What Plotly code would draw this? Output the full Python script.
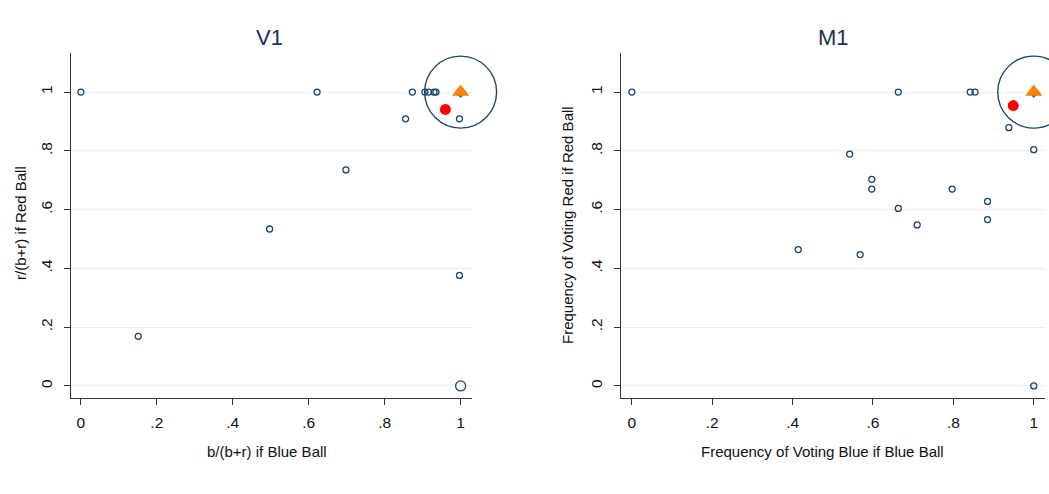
import plotly.graph_objects as go

# ---- data ----
v1_x = [0.0, 0.622, 0.873, 0.906, 0.916, 0.930, 0.935, 0.855, 0.997, 0.151, 0.497, 0.698, 0.997]
v1_y = [1.0, 1.0, 1.0, 1.0, 1.0, 1.0, 1.0, 0.909, 0.909, 0.169, 0.534, 0.735, 0.376]
v1_big_x = [1.0]
v1_big_y = [0.0]
v1_mean_x = [0.960]
v1_mean_y = [0.941]

m1_x = [0.0, 0.663, 0.842, 0.854, 0.938, 1.0, 0.542, 0.597, 0.597, 0.663, 0.710, 0.797, 0.885, 0.885, 0.414, 0.568, 1.0]
m1_y = [1.0, 1.0, 1.0, 1.0, 0.879, 0.804, 0.789, 0.703, 0.670, 0.604, 0.548, 0.670, 0.628, 0.566, 0.464, 0.447, 0.0]
m1_mean_x = [0.949]
m1_mean_y = [0.954]

eq_x = [1.0]
eq_y = [1.0]

tick_vals = [0, 0.2, 0.4, 0.6, 0.8, 1]
tick_text = ["0", ".2", ".4", ".6", ".8", "1"]

NAVY = "#1a476f"
FONT = "Liberation Sans, Arial, sans-serif"

fig = go.Figure()


def add_panel(xs, ys, mx, my, xa, ya, big=None):
    fig.add_trace(go.Scatter(x=xs, y=ys, mode="markers", xaxis=xa, yaxis=ya,
                             marker=dict(symbol="circle-open", size=6, color=NAVY,
                                         line=dict(width=1.3, color=NAVY)),
                             showlegend=False, cliponaxis=False))
    if big is not None:
        fig.add_trace(go.Scatter(x=big[0], y=big[1], mode="markers", xaxis=xa, yaxis=ya,
                                 marker=dict(symbol="circle-open", size=10, color=NAVY,
                                             line=dict(width=1.3, color=NAVY)),
                                 showlegend=False, cliponaxis=False))
    fig.add_trace(go.Scatter(x=mx, y=my, mode="markers", xaxis=xa, yaxis=ya,
                             marker=dict(symbol="circle", size=11, color="#ff0000"),
                             showlegend=False, cliponaxis=False))
    fig.add_trace(go.Scatter(x=eq_x, y=eq_y, mode="markers", xaxis=xa, yaxis=ya,
                             marker=dict(symbol="diamond", size=9, color="#2e8b2e"),
                             showlegend=False, cliponaxis=False))
    fig.add_trace(go.Scatter(x=eq_x, y=eq_y, mode="markers", xaxis=xa, yaxis=ya,
                             marker=dict(symbol="triangle-up", size=15, color="#f7820c"),
                             showlegend=False, cliponaxis=False))
    fig.add_trace(go.Scatter(x=eq_x, y=eq_y, mode="markers", xaxis=xa, yaxis=ya,
                             marker=dict(symbol="circle-open", size=72, color=NAVY,
                                         line=dict(width=1.4, color=NAVY)),
                             showlegend=False, cliponaxis=False))


add_panel(v1_x, v1_y, v1_mean_x, v1_mean_y, "x", "y", big=(v1_big_x, v1_big_y))
add_panel(m1_x, m1_y, m1_mean_x, m1_mean_y, "x2", "y2")

H = 494.0
W = 1049.0
ydom = [1 - 397.7 / H, 1 - 53 / H]

xaxis_common = dict(tickvals=tick_vals, ticktext=tick_text, showgrid=False, zeroline=False,
                    showline=True, linecolor="#333333", linewidth=1.2, ticks="outside",
                    ticklen=6, tickcolor="#333333", ticklabelstandoff=5,
                    tickfont=dict(size=15.5, color="#111111", family=FONT))
yaxis_common = dict(tickvals=tick_vals, ticktext=tick_text, showgrid=True, gridcolor="#e6eff1",
                    gridwidth=1, zeroline=False, showline=True, linecolor="#333333", linewidth=1.2,
                    ticks="outside", ticklen=6, tickcolor="#333333", tickangle=-90,
                    ticklabelstandoff=6,
                    tickfont=dict(size=15.5, color="#111111", family=FONT),
                    range=[-0.04, 1.133], domain=ydom)

fig.update_layout(
    width=1049, height=494,
    margin=dict(l=0, r=0, t=0, b=0),
    paper_bgcolor="white", plot_bgcolor="white",
    font=dict(family=FONT),
    xaxis=dict(xaxis_common, domain=[71 / W, 472 / W], range=[-0.026, 1.03], anchor="y"),
    yaxis=dict(yaxis_common, anchor="x"),
    xaxis2=dict(xaxis_common, domain=[621 / W, 1045 / W], range=[-0.027, 1.028], anchor="y2"),
    yaxis2=dict(yaxis_common, anchor="x2"),
)

annots = [
    dict(text="V1", x=269 / W, y=1 - 38 / H, size=22, color="#1e2d5a", angle=0),
    dict(text="M1", x=833 / W, y=1 - 38 / H, size=22, color="#1e2d5a", angle=0),
    dict(text="b/(b+r) if Blue Ball", x=267 / W, y=1 - 451 / H, size=15, color="#111111", angle=0),
    dict(text="Frequency of Voting Blue if Blue Ball", x=822 / W, y=1 - 451 / H, size=15, color="#111111", angle=0),
    dict(text="r/(b+r) if Red Ball", x=20 / W, y=1 - 223 / H, size=15, color="#111111", angle=-90),
    dict(text="Frequency of Voting Red if Red Ball", x=567 / W, y=1 - 225 / H, size=15, color="#111111", angle=-90),
]
for a in annots:
    fig.add_annotation(text=a["text"], x=a["x"], y=a["y"], xref="paper", yref="paper",
                       showarrow=False, xanchor="center", yanchor="middle", textangle=a["angle"],
                       font=dict(size=a["size"], color=a["color"], family=FONT))

fig.write_html("out.html")
